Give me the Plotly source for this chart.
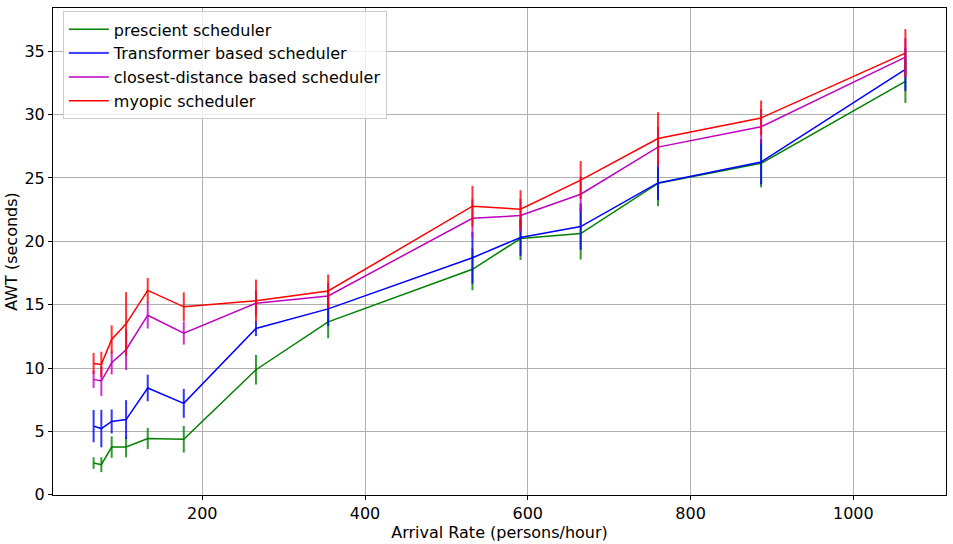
"""AWT vs arrival rate for four elevator schedulers, with error bars."""
import plotly.graph_objects as go

ARRIVAL = [66.5, 76.0, 88.7, 106.4, 133.0, 177.3, 266.0, 354.7,
           532.0, 591.1, 665.0, 760.0, 886.7, 1064.0]

PRESCIENT = [2.51, 2.38, 3.77, 3.77, 4.45, 4.39, 9.87, 13.65,
             17.79, 20.22, 20.61, 24.57, 26.15, 32.62]
PRESCIENT_ERR = [0.46, 0.59, 0.85, 0.81, 0.83, 1.05, 1.17, 1.3,
                 1.65, 1.7, 2.05, 1.8, 1.9, 1.7]

TRANSFORMER = [5.42, 5.23, 5.79, 5.94, 8.43, 7.22, 13.12, 14.67,
               18.70, 20.30, 21.16, 24.60, 26.25, 33.56]
TRANSFORMER_ERR = [1.27, 1.48, 0.95, 1.53, 1.05, 1.14, 0.6, 1.36,
                   2.04, 1.44, 1.83, 1.34, 1.76, 1.7]

CLOSEST = [9.11, 8.98, 10.42, 11.45, 14.17, 12.75, 15.11, 15.69,
           21.82, 22.03, 23.71, 27.43, 29.03, 34.53]
CLOSEST_ERR = [0.68, 1.17, 0.92, 1.6, 1.05, 0.9, 1.0, 1.0,
               1.5, 1.3, 1.4, 1.6, 1.4, 1.5]

MYOPIC = [10.37, 10.29, 12.26, 13.49, 16.13, 14.83, 15.32, 16.08,
          22.77, 22.53, 24.83, 28.11, 29.73, 34.84]
MYOPIC_ERR = [0.83, 1.0, 1.11, 2.5, 0.98, 1.14, 1.66, 1.3,
              1.6, 1.5, 1.5, 2.07, 1.37, 1.9]

SERIES = [
    ("prescient scheduler", PRESCIENT, PRESCIENT_ERR, "#008000", "rgba(0,128,0,0.8)"),
    ("Transformer based scheduler", TRANSFORMER, TRANSFORMER_ERR, "#0000ff", "rgba(0,0,255,0.8)"),
    ("closest-distance based scheduler", CLOSEST, CLOSEST_ERR, "#bf00bf", "rgba(191,0,191,0.8)"),
    ("myopic scheduler", MYOPIC, MYOPIC_ERR, "#ff0000", "rgba(255,0,0,0.8)"),
]

FONT = "DejaVu Sans"

fig = go.Figure()
for name, vals, err, col, ecol in SERIES:
    fig.add_scatter(
        x=ARRIVAL, y=vals, mode="lines", name=name,
        line=dict(color=col, width=1.5),
        error_y=dict(type="data", array=err, visible=True,
                     color=ecol, thickness=2, width=0))

axis_common = dict(showgrid=True, gridcolor="#b0b0b0", gridwidth=1,
                   showline=True, linecolor="black", linewidth=1, mirror=True,
                   ticks="outside", ticklen=4, tickcolor="black",
                   zeroline=False, automargin=False,
                   tickfont=dict(size=16, color="black"))
fig.update_xaxes(range=[16.6, 1113.9], tickvals=[200, 400, 600, 800, 1000],
                 title=dict(text="Arrival Rate (persons/hour)",
                            font=dict(size=16, color="black"), standoff=0),
                 **axis_common)
fig.update_yaxes(range=[-0.01, 38.4], tickvals=[0, 5, 10, 15, 20, 25, 30, 35],
                 title=dict(text="AWT (seconds)",
                            font=dict(size=16, color="black"), standoff=2),
                 **axis_common)
fig.update_layout(
    width=953, height=544,
    margin=dict(l=53, r=7, t=8, b=49),
    plot_bgcolor="white", paper_bgcolor="white",
    font=dict(family=FONT, size=16, color="black"),
    legend=dict(x=0.011, y=0.993, xanchor="left", yanchor="top",
                bgcolor="rgba(255,255,255,0.8)", bordercolor="#cccccc",
                borderwidth=1, font=dict(size=16), tracegroupgap=0,
                itemwidth=40),
)
# the page's default body margin would push the figure 8px right and down
fig.write_html("out.html", config={"displayModeBar": False},
               post_script="document.body.style.margin = '0';")
